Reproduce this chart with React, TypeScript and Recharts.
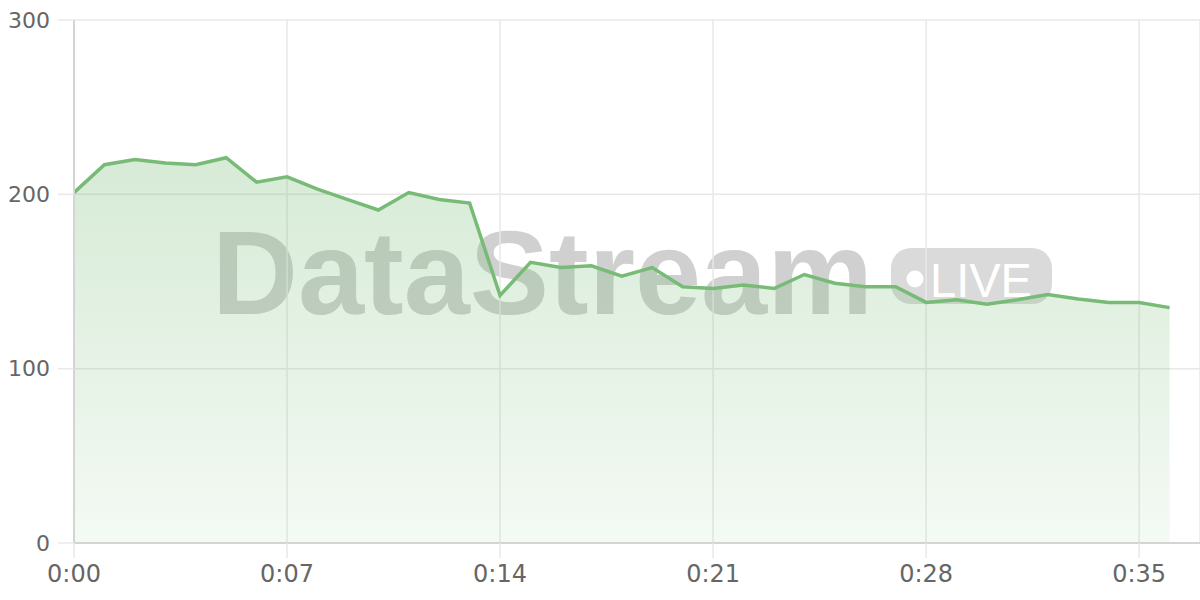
import React from "react";
import {
  AreaChart,
  Area,
  XAxis,
  YAxis,
  CartesianGrid,
} from "recharts";

// seconds since start
const seconds = [
  0, 1, 2, 3, 4, 5, 6, 7, 8, 9, 10, 11, 12, 13, 14, 15, 16, 17, 18, 19, 20, 21,
  22, 23, 24, 25, 26, 27, 28, 29, 30, 31, 32, 33, 34, 35, 36,
];
const values = [
  201, 217, 220, 218, 217, 221, 207, 210, 203, 197, 191, 201, 197, 195, 142,
  161, 158, 159, 153, 158, 147, 146, 148, 146, 154, 149, 147, 147, 138, 139.5,
  137, 139.5, 142.5, 140, 138, 138, 135,
];
const xTicks = [0, 7, 14, 21, 28, 35];
const yTicks = [0, 100, 200, 300];

const data = seconds.map((t, i) => ({ t, value: values[i] }));

const fmtTime = (t: number) => `0:${String(t).padStart(2, "0")}`;

const FONT = "'DejaVu Sans', sans-serif";

const Watermark = () => (
  <svg
    width={1200}
    height={600}
    style={{ position: "absolute", left: 0, top: 0, zIndex: 0 }}
  >
    <text
      x={212}
      y={314}
      fontFamily="'Liberation Sans', Arial, sans-serif"
      fontWeight="bold"
      fontSize={119}
      fill="#d0d0d0"
      textLength={661}
      lengthAdjust="spacingAndGlyphs"
    >
      DataStream
    </text>
    <rect x={891} y={248} width={161} height={56} rx={20} fill="#dadada" />
    <circle cx={915} cy={279} r={8.5} fill="#ffffff" />
    <text
      x={930}
      y={297}
      fontFamily="'Liberation Sans', Arial, sans-serif"
      fontSize={48}
      fill="#ffffff"
      textLength={102}
      lengthAdjust="spacingAndGlyphs"
    >
      LIVE
    </text>
  </svg>
);

export default function App() {
  return (
    <div
      style={{
        position: "absolute",
        left: 0,
        top: 0,
        width: 1200,
        height: 600,
        background: "#ffffff",
      }}
    >
      <Watermark />
      <div style={{ position: "absolute", left: 0, top: 0, zIndex: 1 }}>
        <AreaChart
          width={1200}
          height={600}
          data={data}
          margin={{ top: 20, right: 0, bottom: 0, left: 0 }}
        >
          <defs>
            <linearGradient id="areaFill" x1="0" y1="0" x2="0" y2="1">
              <stop offset="0%" stopColor="#77bb77" stopOpacity={0.3} />
              <stop offset="100%" stopColor="#77bb77" stopOpacity={0.08} />
            </linearGradient>
          </defs>
          <CartesianGrid stroke="#e8e8e8" strokeWidth={1.5} />
          <XAxis
            dataKey="t"
            type="number"
            domain={[0, 37]}
            ticks={xTicks}
            tickFormatter={fmtTime}
            height={57}
            tickSize={15}
            tickMargin={7}
            axisLine={{ stroke: "#d4d4d4", strokeWidth: 2 }}
            tickLine={{ stroke: "#e8e8e8", strokeWidth: 1.5 }}
            tick={{ fontSize: 24, fill: "#666666", fontFamily: FONT }}
          />
          <YAxis
            domain={[0, 300]}
            ticks={yTicks}
            width={74}
            tickSize={16}
            tickMargin={8}
            axisLine={{ stroke: "#d4d4d4", strokeWidth: 2 }}
            tickLine={{ stroke: "#e8e8e8", strokeWidth: 1.5 }}
            tick={{ fontSize: 22, fill: "#666666", fontFamily: FONT }}
          />
          <Area
            type="linear"
            dataKey="value"
            stroke="#77bb77"
            strokeWidth={3.5}
            fill="url(#areaFill)"
            fillOpacity={1}
            dot={false}
            activeDot={false}
            isAnimationActive={false}
          />
        </AreaChart>
      </div>
    </div>
  );
}
